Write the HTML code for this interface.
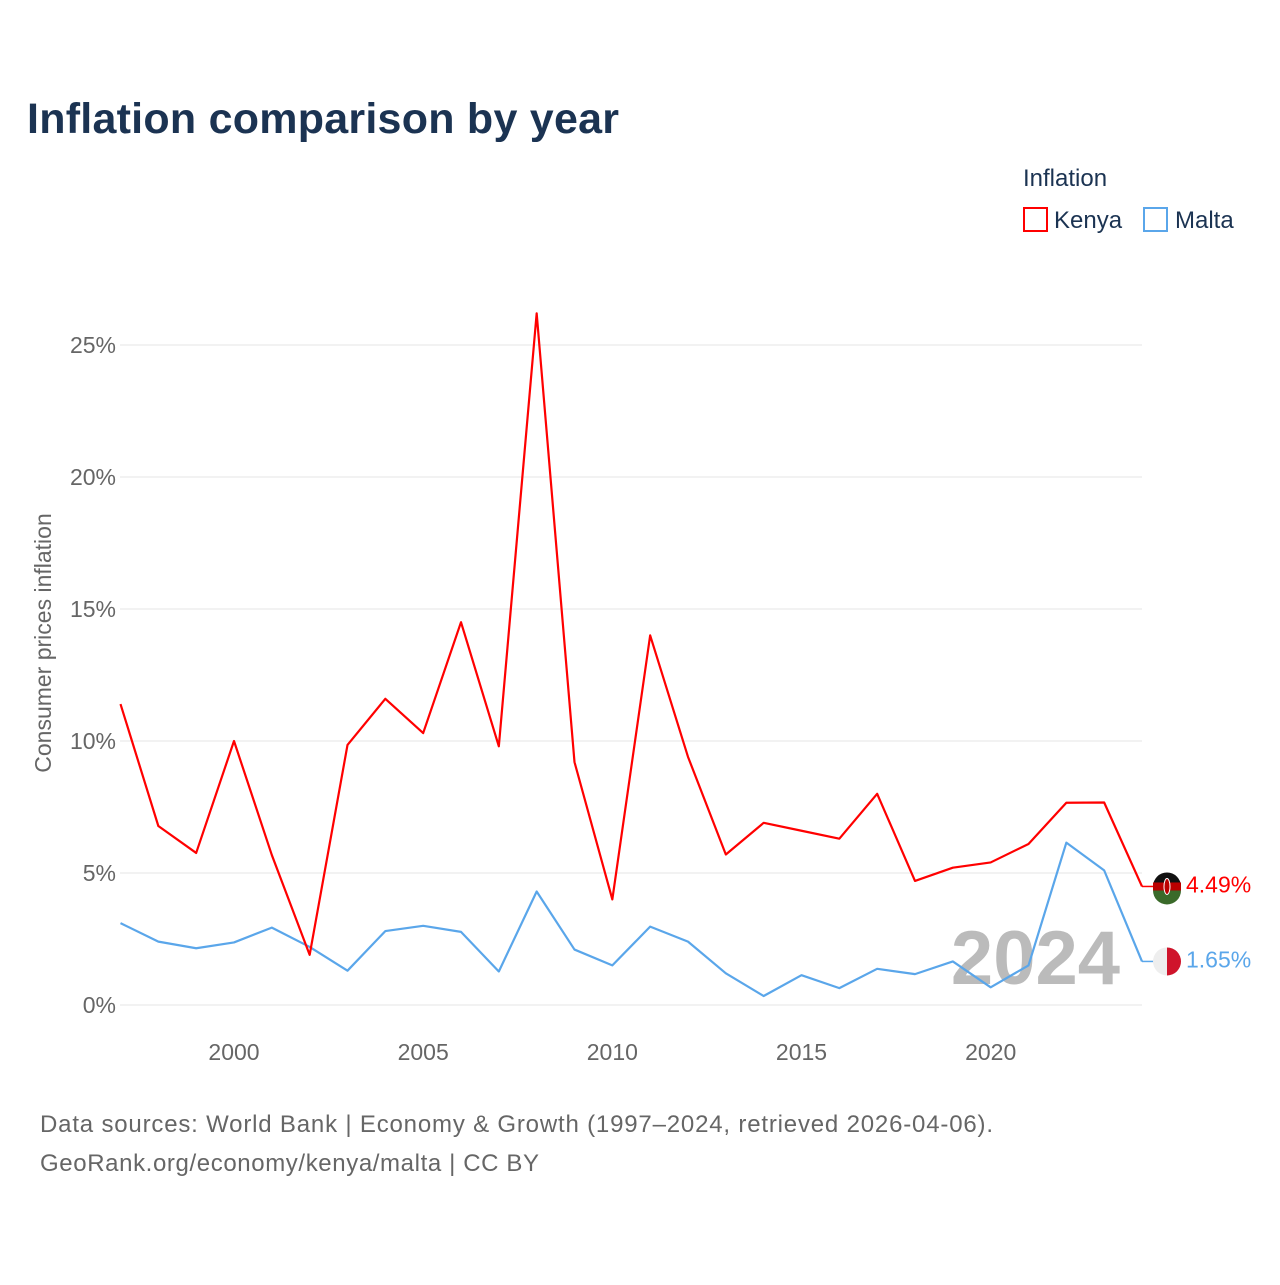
<!DOCTYPE html>
<html><head><meta charset="utf-8"><style>
body{margin:0;background:#fff;font-family:"Liberation Sans",sans-serif;}
svg text{font-family:"Liberation Sans",sans-serif;}
</style></head><body>
<svg id="chart" width="1280" height="1280" viewBox="0 0 1280 1280">
<text x="27" y="133" font-size="43" font-weight="bold" fill="#1b3352" textLength="592">Inflation comparison by year</text>
<text x="1023" y="186" font-size="24" fill="#1b3352">Inflation</text>
<g><rect x="1024" y="208" width="23" height="23" fill="none" stroke="#f00" stroke-width="2"/><text x="1054" y="228" font-size="24" fill="#1b3352">Kenya</text></g>
<g><rect x="1144" y="208" width="23" height="23" fill="none" stroke="#5aa6ea" stroke-width="2"/><text x="1175" y="228" font-size="24" fill="#1b3352">Malta</text></g>
<text transform="translate(51,643) rotate(-90)" text-anchor="middle" font-size="23" fill="#666">Consumer prices inflation</text>
<g id="grid"></g><g id="xt"></g>
<text x="1120" y="984" text-anchor="end" font-size="76" font-weight="bold" fill="#bbb">2024</text>
<g id="series"></g>
<text x="40" y="1132" font-size="24" fill="#666" textLength="953">Data sources: World Bank | Economy &amp; Growth (1997–2024, retrieved 2026-04-06).</text>
<text x="40" y="1171" font-size="24" fill="#666" textLength="499">GeoRank.org/economy/kenya/malta | CC BY</text>
</svg>
<script>
const years=[1997,1998,1999,2000,2001,2002,2003,2004,2005,2006,2007,2008,2009,2010,2011,2012,2013,2014,2015,2016,2017,2018,2019,2020,2021,2022,2023,2024];
const kenya=[11.4,6.78,5.76,10.0,5.68,1.9,9.85,11.6,10.3,14.5,9.8,26.2,9.2,4.0,14.0,9.4,5.7,6.9,6.6,6.3,8.0,4.7,5.2,5.4,6.1,7.66,7.67,4.49];
const malta=[3.1,2.4,2.15,2.37,2.93,2.2,1.3,2.8,3.0,2.77,1.27,4.3,2.1,1.5,2.97,2.4,1.2,0.34,1.13,0.64,1.37,1.17,1.65,0.67,1.5,6.15,5.1,1.65];
const yTicks=[0,5,10,15,20,25];
const xTicks=[2000,2005,2010,2015,2020];
const NS="http://www.w3.org/2000/svg";
function X(y){return 120.5+(y-1997)*(1142-120.5)/27;}
function Y(v){return 1005-v*26.4;}
function mk(t,a,p){const e=document.createElementNS(NS,t);for(const k in a)e.setAttribute(k,a[k]);p.appendChild(e);return e;}
const grid=document.getElementById('grid');
yTicks.forEach(v=>{
 const l=mk('line',{x1:120,x2:1142,y1:Y(v),y2:Y(v),stroke:'#e6e6e6','stroke-width':1},grid);
 
 
 const t=mk('text',{x:116,y:Y(v)+8,'text-anchor':'end','font-size':23,fill:'#666'},grid);
 t.textContent=v+'%';
 
 
});
const xt=document.getElementById('xt');
xTicks.forEach(v=>{
 const t=mk('text',{x:X(v),y:1060,'text-anchor':'middle','font-size':23,fill:'#666'},xt);
 t.textContent=v;
 
 
});
const s=document.getElementById('series');
function draw(vals,color,name){
 const pts=vals.map((v,i)=>X(years[i])+','+Y(v)).join(' ');
 const p=mk('polyline',{points:pts,fill:'none',stroke:color,'stroke-width':2.2,'stroke-linejoin':'round'},s);
 
 
 const last=vals[vals.length-1],ly=Y(last);
 const h=mk('line',{x1:1142,x2:1156,y1:ly,y2:ly,stroke:color,'stroke-width':1.5},s);
 
 
 const g=mk('g',{},s);
 
 
 if(name==='kenya'){
  mk('circle',{cx:1167,cy:ly,r:14,fill:'#111'},g);
  mk('path',{d:`M1153 ${ly+4} H1181 A14 14 0 0 1 1153 ${ly+4} Z`,fill:'#3a6a2a'},g);
  mk('rect',{x:1153,y:ly-4,width:28,height:8,fill:'#b00'},g);
  mk('ellipse',{cx:1167,cy:ly,rx:3,ry:8,fill:'#b00',stroke:'#fff','stroke-width':1},g);
 }else{
  mk('circle',{cx:1167,cy:ly,r:14,fill:'#eee'},g);
  mk('path',{d:`M1167 ${ly-14} A14 14 0 0 1 1167 ${ly+14} Z`,fill:'#cf142b'},g);
 }
 const t=mk('text',{x:1186,y:ly+6,'font-size':23,fill:color},s);
 t.textContent=last.toFixed(2)+'%';
 
 
}
draw(malta,'#5aa6ea','malta');
draw(kenya,'#ff0000','kenya');
</script>
</body></html>
